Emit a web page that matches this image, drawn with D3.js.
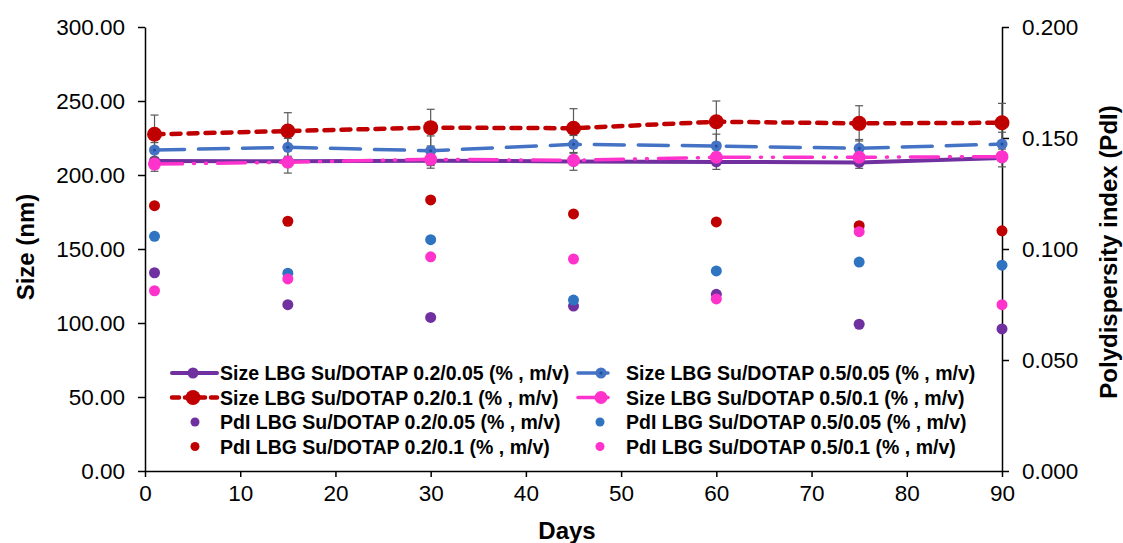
<!DOCTYPE html>
<html>
<head>
<meta charset="utf-8">
<script src="https://cdn.jsdelivr.net/npm/d3@7"></script>
<style>
  body { margin: 0; background: #fff; }
  svg { display: block; font-family: Arial, "Liberation Sans", sans-serif; }
  .axis text { font-size: 22.5px; fill: #000; }
  .axis path, .axis line { stroke: #000; stroke-width: 1.5; }
  .title { font-size: 24px; font-weight: bold; fill: #000; }
  .legend text { font-size: 19.5px; font-weight: bold; fill: #000; }
</style>
</head>
<body>
<div id="container"></div>
<script>
let w = 1123;
let h = 543;

// x values (days)
const days = [1, 15, 30, 45, 60, 75, 90];

// particle size (nm), left axis
const size_02_005 = [209.5, 209.3, 209.6, 209.2, 208.8, 208.5, 211.5];
const size_02_01  = [227.5, 229.7, 232.0, 231.6, 236.0, 234.9, 235.3];
const size_05_005 = [216.9, 218.7, 216.4, 220.7, 219.6, 218.0, 220.9];
const size_05_01  = [207.4, 208.6, 210.6, 209.9, 212.0, 212.0, 212.4];

// standard deviations of size
const err_02_005 = [7, 8, 5, 6, 5, 4, 6];
const err_02_01  = [13, 12.4, 12.4, 13.2, 14, 11.9, 13.1];
const err_05_005 = [5, 6, 10, 6, 8, 6, 8];
const err_05_01  = [3, 3, 3, 3, 3, 3, 3];

// polydispersity index, right axis
const pdi_02_005 = [0.0893, 0.0749, 0.0692, 0.0743, 0.0796, 0.0661, 0.0640];
const pdi_02_01  = [0.1195, 0.1125, 0.1221, 0.1158, 0.1122, 0.1105, 0.1082];
const pdi_05_005 = [0.1057, 0.0891, 0.1042, 0.0770, 0.0901, 0.0941, 0.0927];
const pdi_05_01  = [0.0812, 0.0865, 0.0965, 0.0955, 0.0775, 0.1078, 0.0749];

// ticks
const dayTicks = [0, 10, 20, 30, 40, 50, 60, 70, 80, 90];
const sizeTicks = [0, 50, 100, 150, 200, 250, 300];
const pdiTicks = [0, 0.05, 0.1, 0.15, 0.2];

const legendLabels = [
  "Size LBG Su/DOTAP 0.2/0.05 (% , m/v)",
  "Size LBG Su/DOTAP 0.2/0.1 (% , m/v)",
  "PdI LBG Su/DOTAP 0.2/0.05 (% , m/v)",
  "PdI LBG Su/DOTAP 0.2/0.1 (% , m/v)",
  "Size LBG Su/DOTAP 0.5/0.05 (% , m/v)",
  "Size LBG Su/DOTAP 0.5/0.1 (% , m/v)",
  "PdI LBG Su/DOTAP 0.5/0.05 (% , m/v)",
  "PdI LBG Su/DOTAP 0.5/0.1 (% , m/v)"
];

let svg = d3.select("#container").append("svg")
            .attr("width", w)
            .attr("height", h);

let xScale = d3.scaleLinear().domain([0, 90]).range([145, 1002]);
let yScale = d3.scaleLinear().domain([0, 300]).range([471, 27]);
let y2Scale = d3.scaleLinear().domain([0, 0.2]).range([471, 27]);

// axes
svg.append("g")
   .attr("class", "axis")
   .attr("transform", "translate(0,471)")
   .call(d3.axisBottom(xScale).tickValues(dayTicks).tickSize(6).tickSizeOuter(0).tickPadding(8));

svg.append("g")
   .attr("class", "axis")
   .attr("transform", "translate(145,0)")
   .call(d3.axisLeft(yScale).tickValues(sizeTicks).tickFormat(d3.format(".2f")).tickSize(7).tickSizeOuter(0).tickPadding(13));

svg.append("g")
   .attr("class", "axis")
   .attr("transform", "translate(1002,0)")
   .call(d3.axisRight(y2Scale).tickValues(pdiTicks).tickFormat(d3.format(".3f")).tickSize(7).tickSizeOuter(0).tickPadding(13));

// titles
svg.append("text").attr("class", "title")
   .attr("x", 567).attr("y", 539)
   .attr("text-anchor", "middle")
   .text("Days");

svg.append("text").attr("class", "title")
   .attr("transform", "translate(34,247) rotate(-90)")
   .attr("text-anchor", "middle")
   .text("Size (nm)");

svg.append("text").attr("class", "title")
   .attr("transform", "translate(1117,252) rotate(-90)")
   .attr("text-anchor", "middle")
   .text("Polydispersity index (PdI)");

// size series
let sizeSeries = [
  { vals: size_02_005, err: err_02_005, color: "#7030A0", width: 4, dash: null, r: 5.5 },
  { vals: size_02_01,  err: err_02_01,  color: "#C00000", width: 4.5, dash: "9 8", r: 7.5 },
  { vals: size_05_005, err: err_05_005, color: "#4472C4", width: 3.5, dash: "30 14", r: 5.5, dot: "#1F4E9A" },
  { vals: size_05_01,  err: err_05_01,  color: "#FF33CC", width: 3.5, dash: "28 11 1 11 1 11", r: 6.5 }
];

let line = d3.line()
             .x(d => xScale(d[0]))
             .y(d => yScale(d[1]));

sizeSeries.forEach(s => {
  let pts = days.map((d, i) => [d, s.vals[i], s.err[i]]);
  let g = svg.append("g");

  // error bars
  let eb = g.selectAll("g.err").data(pts).enter().append("g")
            .attr("stroke", "#595959").attr("stroke-width", 1.2);
  eb.append("line")
    .attr("x1", d => xScale(d[0])).attr("x2", d => xScale(d[0]))
    .attr("y1", d => yScale(d[1] - d[2])).attr("y2", d => yScale(d[1] + d[2]));
  eb.append("line")
    .attr("x1", d => xScale(d[0]) - 4).attr("x2", d => xScale(d[0]) + 4)
    .attr("y1", d => yScale(d[1] + d[2])).attr("y2", d => yScale(d[1] + d[2]));
  eb.append("line")
    .attr("x1", d => xScale(d[0]) - 4).attr("x2", d => xScale(d[0]) + 4)
    .attr("y1", d => yScale(d[1] - d[2])).attr("y2", d => yScale(d[1] - d[2]));

  g.append("path")
   .datum(pts)
   .attr("fill", "none")
   .attr("stroke", s.color)
   .attr("stroke-width", s.width)
   .attr("stroke-linecap", "round")
   .attr("stroke-dasharray", s.dash)
   .attr("d", line);

  g.selectAll("circle.m").data(pts).enter().append("circle")
   .attr("cx", d => xScale(d[0]))
   .attr("cy", d => yScale(d[1]))
   .attr("r", s.r)
   .attr("fill", s.color);

  if (s.dot) {
    g.selectAll("circle.d").data(pts).enter().append("circle")
     .attr("cx", d => xScale(d[0]))
     .attr("cy", d => yScale(d[1]))
     .attr("r", 1.5)
     .attr("fill", s.dot);
  }
});

// PdI scatter
let pdiSeries = [
  { vals: pdi_02_005, color: "#7030A0" },
  { vals: pdi_02_01,  color: "#C00000" },
  { vals: pdi_05_005, color: "#2E74C0" },
  { vals: pdi_05_01,  color: "#FF33CC" }
];

pdiSeries.forEach(s => {
  svg.append("g")
     .selectAll("circle")
     .data(days.map((d, i) => [d, s.vals[i]]))
     .enter()
     .append("circle")
     .attr("cx", d => xScale(d[0]))
     .attr("cy", d => y2Scale(d[1]))
     .attr("r", 5.5)
     .attr("fill", s.color);
});

// legend
let legend = svg.append("g").attr("class", "legend");
let rowY = [373, 397.5, 422, 446.5];
let legendItems = [
  { col: 0, row: 0, s: sizeSeries[0] },
  { col: 0, row: 1, s: sizeSeries[1] },
  { col: 0, row: 2, p: pdiSeries[0] },
  { col: 0, row: 3, p: pdiSeries[1] },
  { col: 1, row: 0, s: sizeSeries[2] },
  { col: 1, row: 1, s: sizeSeries[3] },
  { col: 1, row: 2, p: pdiSeries[2] },
  { col: 1, row: 3, p: pdiSeries[3] }
];

legendItems.forEach((it, i) => {
  let y = rowY[it.row];
  let x0 = it.col === 0 ? 172 : 578;
  let x1 = it.col === 0 ? 217 : 608;
  let xm = it.col === 0 ? 193 : 601;
  let tx = it.col === 0 ? 220 : 626;
  if (it.s) {
    legend.append("line")
          .attr("x1", x0).attr("x2", x1).attr("y1", y).attr("y2", y)
          .attr("stroke", it.s.color)
          .attr("stroke-width", it.s.width)
          .attr("stroke-linecap", "round")
          .attr("stroke-dasharray", it.s.dash ? (it.col === 0 ? "7 6" : null) : null);
    legend.append("circle")
          .attr("cx", xm).attr("cy", y).attr("r", it.s.r)
          .attr("fill", it.s.color);
    if (it.s.dot) {
      legend.append("circle").attr("cx", xm).attr("cy", y).attr("r", 1.5).attr("fill", it.s.dot);
    }
  } else {
    legend.append("circle")
          .attr("cx", it.col === 0 ? 195 : 600).attr("cy", y).attr("r", 4.5)
          .attr("fill", it.p.color);
  }
  legend.append("text")
        .attr("x", tx).attr("y", y + 7)
        .text(legendLabels[i]);
});
</script>
</body>
</html>
